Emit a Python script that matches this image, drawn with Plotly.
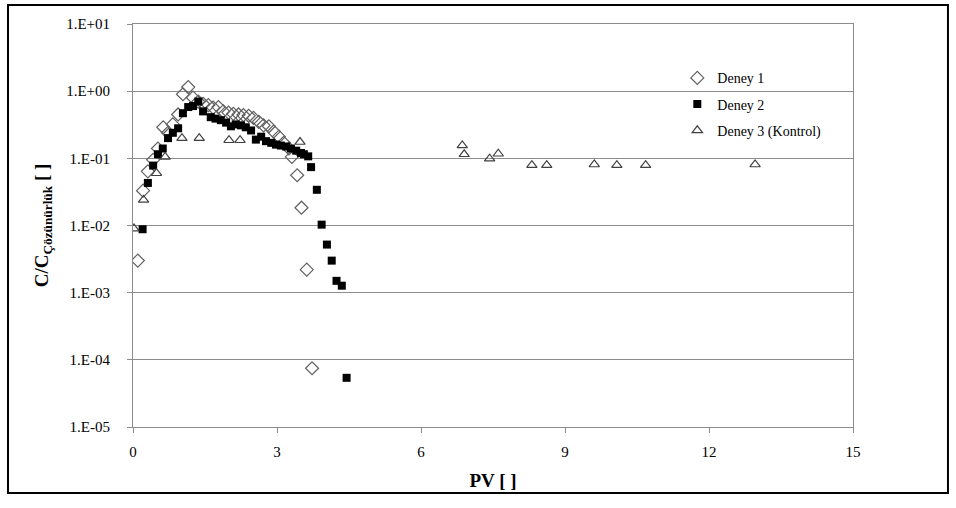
import plotly.graph_objects as go

# Deney 1
pv_1 = [0.10, 0.21, 0.31, 0.42, 0.52, 0.63, 0.73, 0.83, 0.94, 1.04, 1.15, 1.25,
        1.36, 1.46, 1.57, 1.67, 1.78, 1.88, 1.99, 2.09, 2.20, 2.30, 2.41, 2.51,
        2.62, 2.72, 2.83, 2.93, 3.04, 3.14, 3.25, 3.31, 3.42, 3.51, 3.62, 3.73]
c_1 = [0.0030, 0.033, 0.064, 0.095, 0.14, 0.29, 0.24, 0.32, 0.45, 0.90, 1.15, 0.80,
       0.70, 0.65, 0.62, 0.57, 0.58, 0.50, 0.48, 0.46, 0.45, 0.44, 0.43, 0.40,
       0.35, 0.31, 0.30, 0.25, 0.21, 0.17, 0.14, 0.105, 0.056, 0.0184, 0.0022, 7.5e-5]

# Deney 2
pv_2 = [0.20, 0.31, 0.42, 0.52, 0.62, 0.73, 0.83, 0.94, 1.04, 1.15, 1.25, 1.36,
        1.46, 1.62, 1.72, 1.83, 1.94, 2.04, 2.14, 2.25, 2.35, 2.46, 2.56, 2.67,
        2.77, 2.88, 2.98, 3.08, 3.19, 3.29, 3.40, 3.50, 3.56, 3.65, 3.71, 3.83,
        3.93, 4.04, 4.14, 4.24, 4.35, 4.45]
c_2 = [0.0088, 0.043, 0.078, 0.115, 0.14, 0.20, 0.24, 0.28, 0.47, 0.58, 0.60, 0.70,
       0.50, 0.41, 0.39, 0.37, 0.34, 0.30, 0.32, 0.31, 0.29, 0.26, 0.19, 0.21,
       0.18, 0.17, 0.16, 0.155, 0.15, 0.14, 0.13, 0.12, 0.115, 0.107, 0.074, 0.034,
       0.0103, 0.0052, 0.0030, 0.0015, 0.00127, 5.4e-5]

# Deney 3 (Kontrol)
pv_3 = [0.02, 0.22, 0.49, 0.67, 1.02, 1.38, 2.00, 2.23, 3.48,
        6.86, 6.90, 7.43, 7.61, 8.31, 8.62, 9.61, 10.08, 10.68, 12.96]
c_3 = [0.0090, 0.024, 0.060, 0.105, 0.20, 0.20, 0.186, 0.186, 0.175,
       0.156, 0.115, 0.099, 0.117, 0.079, 0.079, 0.081, 0.079, 0.079, 0.081]

y_tickvals = [1e-5, 1e-4, 1e-3, 1e-2, 1e-1, 1e0, 1e1]
y_ticktext = ["1.E-05", "1.E-04", "1.E-03", "1.E-02", "1.E-01", "1.E+00", "1.E+01"]
x_tickvals = [0, 3, 6, 9, 12, 15]

FONT = "'Times New Roman', 'Liberation Serif', 'DejaVu Serif', serif"

fig = go.Figure()
fig.add_trace(go.Scatter(
    x=pv_1, y=c_1, mode="markers", name="Deney 1", legendgroup="d1",
    marker=dict(symbol="diamond-open", size=10, color="#606060",
                line=dict(width=1.2, color="#606060")),
))
fig.add_trace(go.Scatter(
    x=pv_2, y=c_2, mode="markers", name="Deney 2", legendgroup="d2",
    marker=dict(symbol="square", size=8, color="black"),
))
fig.add_trace(go.Scatter(
    x=pv_3, y=c_3, mode="markers", name="Deney 3 (Kontrol)", legendgroup="d3",
    marker=dict(symbol="triangle-up-open", size=9, color="#404040",
                line=dict(width=1.2, color="#404040")),
))

fig.update_layout(
    width=956, height=508,
    margin=dict(l=133, r=103, t=24, b=81),
    paper_bgcolor="white", plot_bgcolor="white",
    font=dict(family=FONT, size=14, color="black"),
    showlegend=True,
    legend=dict(x=0.756, y=0.905, xanchor="left", yanchor="top",
                bgcolor="rgba(0,0,0,0)", font=dict(family=FONT, size=14),
                tracegroupgap=5, itemwidth=30),
    shapes=[dict(type="rect", xref="paper", yref="paper",
                 x0=-0.1736, x1=1.1319, y0=-0.1638, y1=1.047,
                 line=dict(color="black", width=2), fillcolor="rgba(0,0,0,0)",
                 layer="below")],
)

fig.update_xaxes(
    range=[0, 15], tickvals=x_tickvals, showgrid=False, zeroline=False,
    showline=True, linecolor="#8c8c8c", linewidth=1, mirror=True,
    ticks="outside", ticklen=5, tickcolor="#8c8c8c",
    tickfont=dict(family=FONT, size=15), ticklabelstandoff=6,
    title=dict(text="<b>PV [ ]</b>", font=dict(family=FONT, size=19), standoff=14),
)
fig.update_yaxes(
    type="log", range=[-5, 1], tickvals=y_tickvals, ticktext=y_ticktext,
    showgrid=True, gridcolor="#8c8c8c", gridwidth=1, zeroline=False,
    showline=True, linecolor="#8c8c8c", linewidth=1, mirror=True,
    ticks="outside", ticklen=5, tickcolor="#8c8c8c",
    tickfont=dict(family=FONT, size=15), ticklabelstandoff=14,
    title=dict(text="<b>C/C<sub>Çözünürlük</sub> [ ]</b>",
               font=dict(family=FONT, size=19), standoff=12),
)

fig.write_html("out.html")
